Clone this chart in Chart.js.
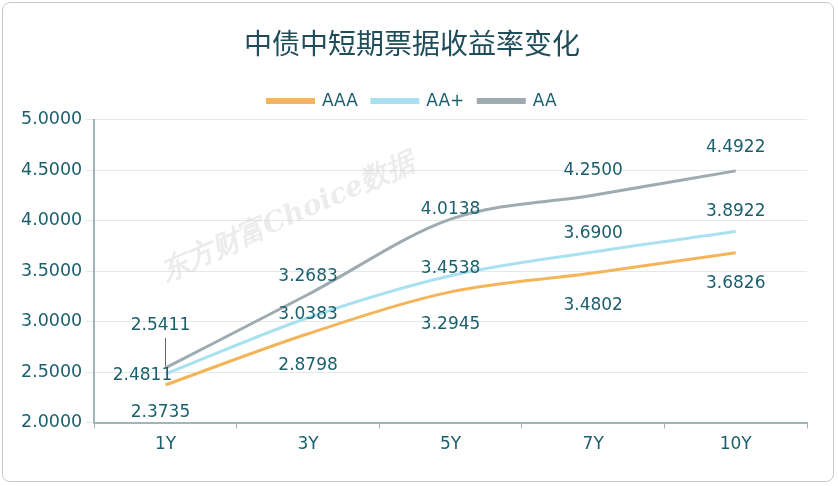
<!DOCTYPE html>
<html>
<head>
<meta charset="utf-8">
<script src="https://cdn.jsdelivr.net/npm/chart.js@4/dist/chart.umd.min.js"></script>
<style>
  html, body { margin: 0; padding: 0; background: #fff; }
  #wrap { position: absolute; left: 2px; top: 2px; width: 832px; height: 480px; border: 1px solid #c9c9c9; border-radius: 8px; box-sizing: border-box; }
  canvas { display: block; }
</style>
</head>
<body>
<div id="wrap"><canvas id="chart"></canvas></div>
<script>
const categories = ["1Y", "3Y", "5Y", "7Y", "10Y"];
const aaa = [2.3735, 2.8798, 3.2945, 3.4802, 3.6826];
const aaPlus = [2.4811, 3.0383, 3.4538, 3.69, 3.8922];
const aa = [2.5411, 3.2683, 4.0138, 4.25, 4.4922];
const yTicks = [2.0, 2.5, 3.0, 3.5, 4.0, 4.5, 5.0];

// label offsets in px (dx, dy) per series
const labelOffsets = [
  [[-5, 28], [0, 32], [0, 33], [0, 32], [0, 31]],
  [[-23, 2], [0, -3], [0, -7], [0, -18], [0, -20]],
  [[-5, -42], [0, -18], [0, -10], [0, -25], [0, -23]],
];

const textColor = "#1b5f6c";
const fontFam = "'DejaVu Sans', sans-serif";

const labelPlugin = {
  id: "valueLabels",
  afterDatasetsDraw(chart) {
    const ctx = chart.ctx;
    ctx.save();
    ctx.font = "17px " + fontFam;
    ctx.fillStyle = textColor;
    ctx.textAlign = "center";
    ctx.textBaseline = "middle";
    chart.data.datasets.forEach((ds, i) => {
      chart.getDatasetMeta(i).data.forEach((pt, j) => {
        const [dx, dy] = labelOffsets[i][j];
        ctx.fillText(ds.data[j].toFixed(4), pt.x + dx, pt.y + dy);
        if (i === 2 && j === 0) {
          ctx.strokeStyle = "#666";
          ctx.lineWidth = 1;
          ctx.beginPath();
          ctx.moveTo(pt.x, pt.y - 2);
          ctx.lineTo(pt.x, pt.y - 30);
          ctx.stroke();
        }
      });
    });
    // watermark
    ctx.translate(285, 215);
    ctx.rotate(-0.42);
    ctx.font = "bold italic 28px 'DejaVu Serif', serif";
    ctx.fillStyle = "rgba(200,200,200,0.35)";
    ctx.fillText("东方财富Choice数据", 0, 0);
    ctx.restore();
  },
};

new Chart(document.getElementById("chart"), {
  type: "line",
  data: {
    labels: categories,
    datasets: [
      { label: "AAA", data: aaa, borderColor: "#f4b55a", backgroundColor: "#f4b55a" },
      { label: "AA+", data: aaPlus, borderColor: "#a9e1f1", backgroundColor: "#a9e1f1" },
      { label: "AA", data: aa, borderColor: "#9eabb1", backgroundColor: "#9eabb1" },
    ].map((d) => ({ ...d, borderWidth: 3, pointRadius: 0, cubicInterpolationMode: "monotone", fill: false })),
  },
  options: {
    responsive: true,
    maintainAspectRatio: false,
    animation: false,
    devicePixelRatio: 1,
    layout: { padding: { left: 14, right: 26, top: 14, bottom: 20 } },
    plugins: {
      title: {
        display: true,
        text: "中债中短期票据收益率变化",
        color: "#1f4e5a",
        font: { size: 28, family: "'Noto Sans CJK SC', sans-serif", weight: "normal" },
        padding: { top: 10, bottom: 18 },
      },
      legend: {
        labels: {
          color: textColor,
          boxWidth: 46,
          boxHeight: 3,
          padding: 14,
          font: { size: 17, family: fontFam },
        },
      },
      tooltip: { enabled: false },
    },
    scales: {
      x: {
        offset: true,
        grid: { display: true, drawOnChartArea: false, offset: true, color: "#a0b4bb", tickLength: 6 },
        border: { color: "#a0b4bb", width: 2 },
        ticks: { color: textColor, padding: 6, font: { size: 17, family: fontFam } },
      },
      y: {
        min: 2,
        max: 5,
        afterBuildTicks: (axis) => { axis.ticks = yTicks.map((v) => ({ value: v })); },
        grid: { color: "#e3e8ea", tickLength: 8, drawTicks: true },
        border: { color: "#a0b4bb", width: 2 },
        ticks: {
          color: textColor,
          padding: 4,
          font: { size: 17.5, family: fontFam },
          callback: (v) => Number(v).toFixed(4),
        },
      },
    },
  },
  plugins: [labelPlugin],
});
</script>
</body>
</html>
